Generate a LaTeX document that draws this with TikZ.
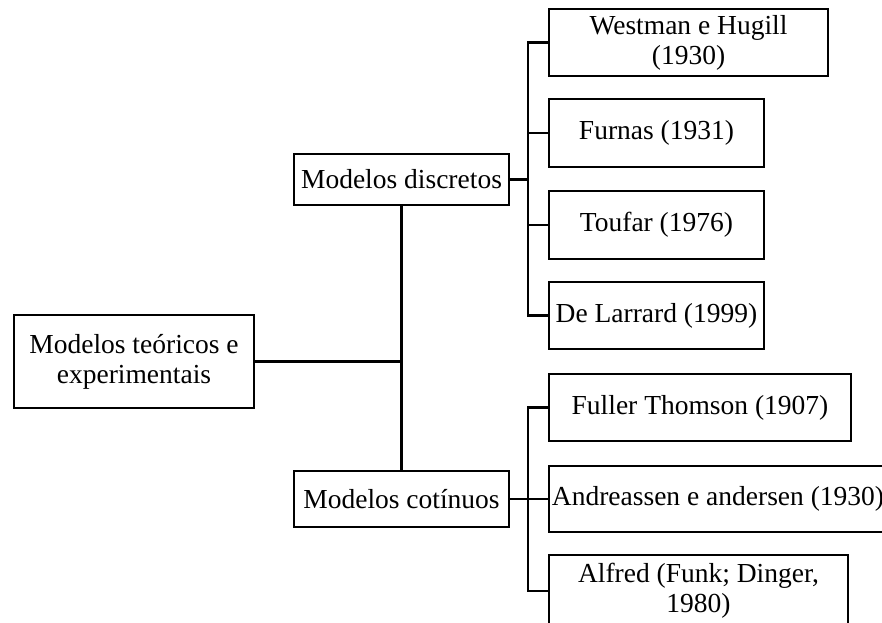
\documentclass[tikz,border=0pt]{standalone}
\usepackage{fontspec}
\setmainfont{Liberation Serif}
\tikzset{
  modelbox/.style={draw, line width=0.9pt, inner sep=0pt, align=center,
    font=\fontsize{13.75}{15}\selectfont},
  link/.style={line width=1.1pt}
}
\begin{document}
\begin{tikzpicture}[x=0.5pt, y=-0.5pt]
  \useasboundingbox (0,0) rectangle (882,622);
  \clip (0,0) rectangle (882,622);
  \node[modelbox, minimum width=120pt, minimum height=46.5pt] (root) at (134,361.5) {Modelos te\'oricos e\\experimentais};
  \node[modelbox, minimum width=107.5pt, minimum height=25.5pt] (disc) at (401.5,179.5) {Modelos discretos};
  \node[modelbox, minimum width=107.5pt, minimum height=28pt] (cont) at (401.5,499) {Modelos cot\'inuos};
  \node[modelbox, minimum width=139.5pt, minimum height=33.5pt] (westman) at (688.5,42.5) {Westman e Hugill\\(1930)};
  \node[modelbox, minimum width=107.5pt, minimum height=34pt] (furnas) at (656.5,133) {Furnas (1931)};
  \node[modelbox, minimum width=107.5pt, minimum height=34pt] (toufar) at (656.5,225) {Toufar (1976)};
  \node[modelbox, minimum width=107.5pt, minimum height=33.5pt] (larrard) at (656.5,315.5) {De Larrard (1999)};
  \node[modelbox, minimum width=151pt, minimum height=33.5pt] (fuller) at (700,407.5) {Fuller Thomson (1907)};
  \node[modelbox, minimum width=169pt, minimum height=33pt] (andreassen) at (718,499) {Andreassen e andersen (1930)};
  \node[modelbox, minimum width=149.5pt, minimum height=36pt] (alfred) at (698.5,591) {Alfred (Funk; Dinger,\\1980)};
  \coordinate (dj) at (528,179.5);
  \coordinate (cj) at (528,499);
  \draw[link] (disc.south) -- (cont.north);
  \draw[link] (root.east) -- (root.east -| disc.south);
  \draw[link] (disc.east) -- (dj);
  \draw[link] (westman.west) -| (dj) |- (larrard.west);
  \draw[link] (furnas.west) -- (furnas.west -| dj);
  \draw[link] (toufar.west) -- (toufar.west -| dj);
  \draw[link] (cont.east) -- (cj);
  \draw[link] (fuller.west) -| (cj) |- (alfred.west);
  \draw[link] (andreassen.west) -- (andreassen.west -| cj);
\end{tikzpicture}
\end{document}
